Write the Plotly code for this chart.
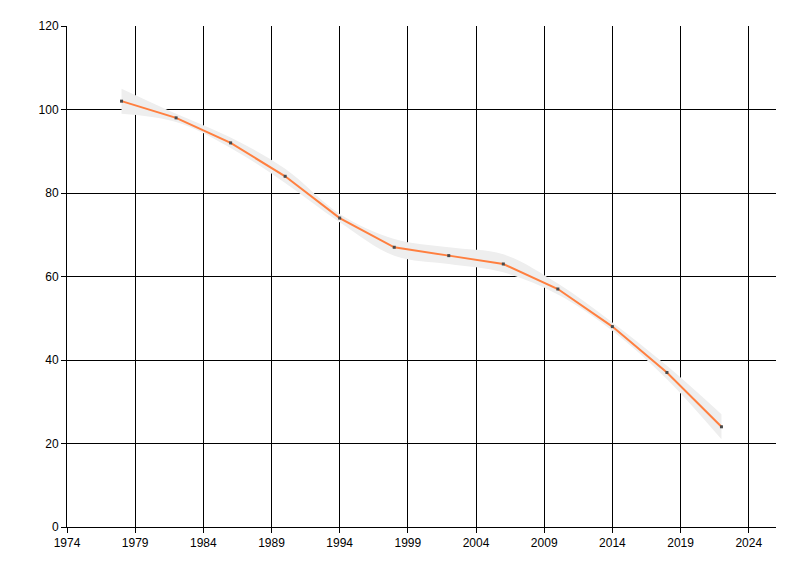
import plotly.graph_objects as go

years = [1978, 1982, 1986, 1990, 1994, 1998, 2002, 2006, 2010, 2014, 2018, 2022]
values = [102, 98, 92, 84, 74, 67, 65, 63, 57, 48, 37, 24]
# confidence band around the line
upper = [105, 99, 93.3, 85.8, 75, 69, 67, 65.3, 58.3, 49, 38.6, 27]
lower = [99, 97, 90.8, 82.4, 73, 65, 63, 61, 55.7, 47, 35.4, 21]

fig = go.Figure()

fig.add_trace(go.Scatter(
    x=years, y=upper, mode='lines',
    line=dict(width=0, shape='spline'),
    hoverinfo='skip', showlegend=False
))
fig.add_trace(go.Scatter(
    x=years, y=lower, mode='lines',
    line=dict(width=0, shape='spline'),
    fill='tonexty', fillcolor='#EEEEEE',
    hoverinfo='skip', showlegend=False
))
fig.add_trace(go.Scatter(
    x=years, y=values, mode='lines+markers',
    line=dict(color='#FF7F3F', width=2),
    marker=dict(symbol='square', size=3, color='#4A4A4A'),
    showlegend=False
))

axis_style = dict(
    showgrid=True, gridcolor='black', gridwidth=1,
    showline=True, linecolor='black', linewidth=1,
    ticks='outside', ticklen=5, tickcolor='black',
    zeroline=False,
    tickfont=dict(family='Liberation Sans', size=12, color='black'),
)

fig.update_xaxes(range=[1974, 2026], tick0=1974, dtick=5, **axis_style)
fig.update_yaxes(range=[0, 120], tick0=0, dtick=20, **axis_style)

# the page body adds an 8px offset, margins are set to land the plot area where the reference has it
fig.update_layout(
    width=800, height=576,
    margin=dict(l=59, r=32, t=18, b=57),
    plot_bgcolor='white',
    paper_bgcolor='white',
)

fig.write_html("out.html")
